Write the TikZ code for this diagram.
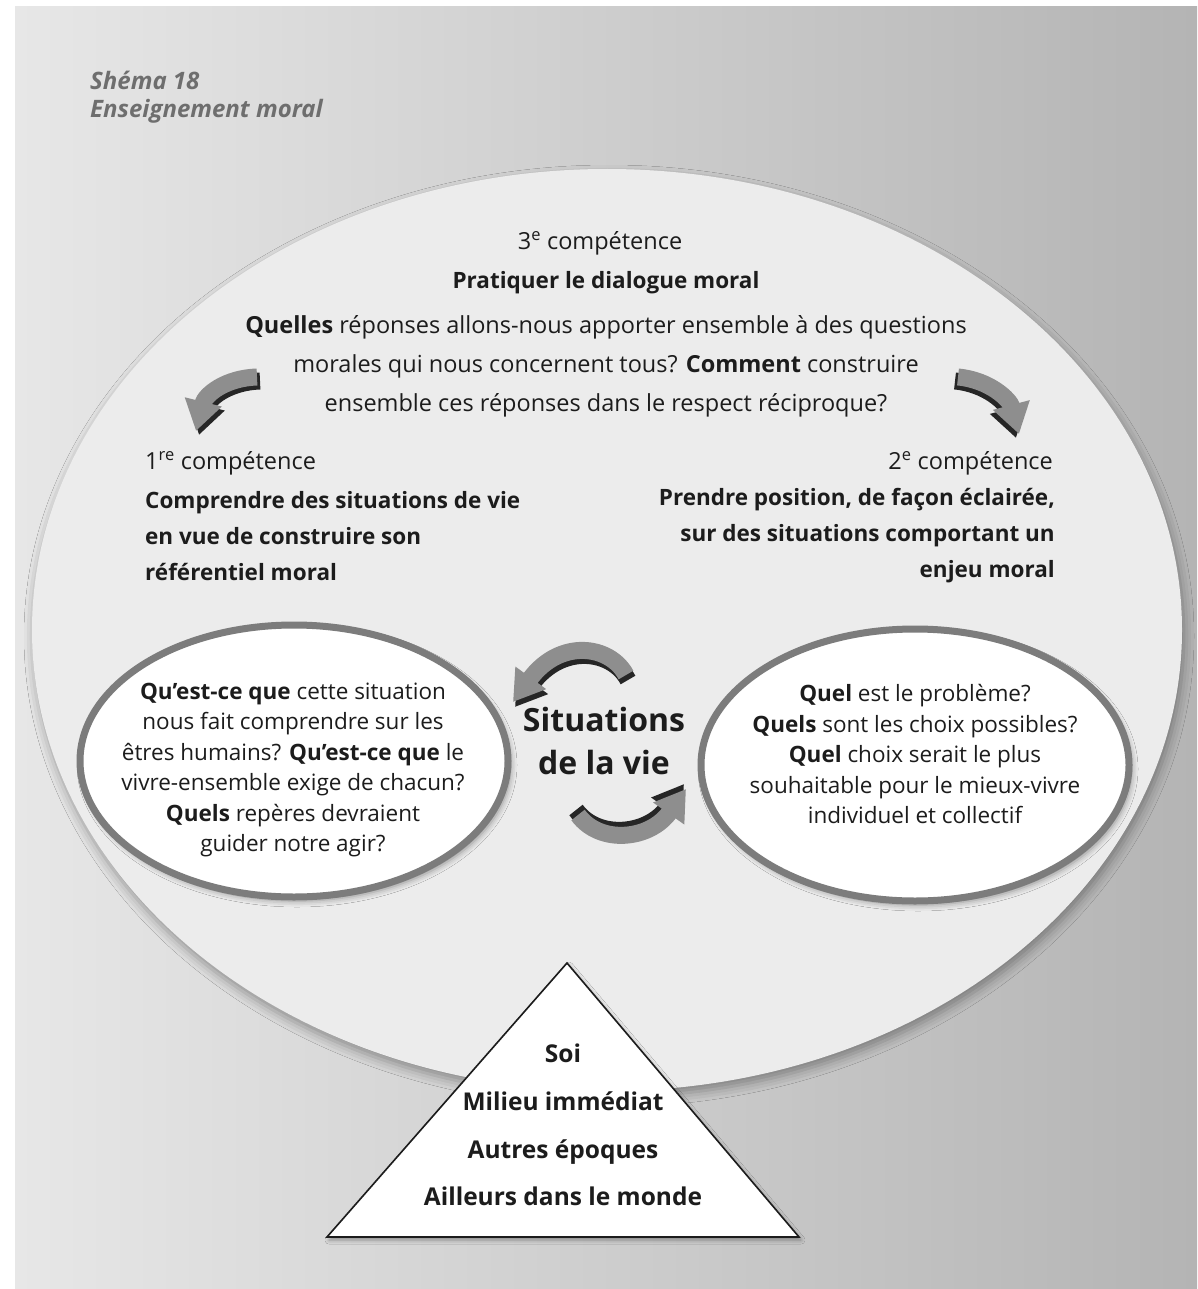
\documentclass[tikz,border=0pt]{standalone}
\usepackage{fontspec}
\setmainfont{Open Sans}
\usetikzlibrary{arrows.meta,positioning,shapes.geometric,shadows.blur,calc}
\definecolor{SMPaleL}{HTML}{E7E7E7}
\definecolor{SMPaleR}{HTML}{B4B4B4}
\definecolor{SMDisc}{HTML}{ECECEC}
\definecolor{SMRing}{HTML}{7C7C7C}
\definecolor{SMInk}{HTML}{1C1C1C}
\definecolor{SMTitle}{HTML}{6E6E6E}
\definecolor{SMArrow}{HTML}{8E8E8E}
\definecolor{SMShade}{HTML}{262626}
\tikzset{txt/.style={text=SMInk,inner sep=0pt,font=\fontsize{23.5}{36}\selectfont}, head/.style={txt,font=\fontsize{22.5}{36}\selectfont\bfseries}, bubble/.style={ellipse,draw=SMRing,line width=7pt,fill=white,minimum width=428pt,minimum height=272pt,inner sep=0pt,blur shadow={shadow xshift=3pt,shadow yshift=-4pt,shadow blur radius=6pt,shadow opacity=40}}, bubbletxt/.style={txt,align=center,font=\fontsize{22.5}{30.5}\selectfont}, swirl/.style={line width=17pt,draw=SMArrow,-{Triangle[length=30pt,width=36pt]},preaction={draw=SMShade,line width=17pt,-{Triangle[length=30pt,width=36pt]},transform canvas={shift={#1}}}}}
\begin{document}
\begin{tikzpicture}[x=1pt,y=-1pt]
\useasboundingbox (0,0) rectangle (1197,1289);
\shade[left color=SMPaleL,right color=SMPaleR] (15,7) rectangle (1197,1289);
\fill[SMDisc,blur shadow={shadow xshift=2pt,shadow yshift=-6pt,shadow blur radius=10pt,shadow opacity=35}] (607,630) ellipse [x radius=575,y radius=461];
\node[anchor=base west,inner sep=0pt,text=SMTitle,font=\fontsize{24}{28}\selectfont\bfseries\itshape] (title1) at (90,90) {Shéma 18};
\node[anchor=base west,inner sep=0pt,text=SMTitle,font=\fontsize{24}{28}\selectfont\bfseries\itshape] (title2) at (90,118) {Enseignement moral};
\node[txt] (c3) at (600,243) {3\textsuperscript{e} compétence};
\node[head] (c3h) at (606,283) {Pratiquer le dialogue moral};
\node[txt,align=center,font=\fontsize{23.5}{39}\selectfont] (c3q) at (606,366) {\textbf{Quelles} réponses allons-nous apporter ensemble à des questions\\morales qui nous concernent tous? \textbf{Comment} construire\\ensemble ces réponses dans le respect réciproque?};
\node[txt,anchor=west] (c1) at (145,463) {1\textsuperscript{re} compétence};
\node[head,align=left,anchor=west] (c1h) at (145,536) {Comprendre des situations de vie\\en vue de construire son\\référentiel moral};
\node[txt,anchor=east] (c2) at (1053,463) {2\textsuperscript{e} compétence};
\node[head,align=right,anchor=east] (c2h) at (1055,536) {Prendre position, de façon éclairée,\\sur des situations comportant un\\enjeu moral};
\node[bubble] (qleft) at (294,761) {};
\node[bubbletxt] (qlefttxt) at (293,770) {\textbf{Qu’est-ce que} cette situation\\nous fait comprendre sur les\\êtres humains? \textbf{Qu’est-ce que} le\\vivre-ensemble exige de chacun?\\\textbf{Quels} repères devraient\\guider notre agir?};
\node[bubble] (qright) at (915,765) {};
\node[bubbletxt] (qrighttxt) at (915,754) {\textbf{Quel} est le problème?\\\textbf{Quels} sont les choix possibles?\\\textbf{Quel} choix serait le plus\\souhaitable pour le mieux-vivre\\individuel et collectif};
\node[txt,align=center,font=\fontsize{32}{43}\selectfont\bfseries] (life) at (604,741) {Situations\\de la vie};
\coordinate (apex) at (567,963);
\coordinate (baseL) at (327,1237);
\coordinate (baseR) at (799,1237);
\filldraw[fill=white,draw=SMInk,line width=1.6pt,blur shadow={shadow xshift=2pt,shadow yshift=-3pt,shadow blur radius=4pt,shadow opacity=35}] (apex) -- (baseR) -- (baseL) -- cycle;
\node[head,align=center,font=\fontsize{24.5}{47.7}\selectfont\bfseries] (levels) at (563,1125) {Soi\\Milieu immédiat\\Autres époques\\Ailleurs dans le monde};
\coordinate (a1s) at (257,377);
\coordinate (a1t) at (196,431);
\coordinate (a2s) at (958,377);
\coordinate (a2t) at (1019,434);
\coordinate (a3s) at (626,675);
\coordinate (a3t) at (513,702);
\coordinate (a4s) at (578,815);
\coordinate (a4t) at (686,789);
\draw[swirl={(3,4)}] (a1s) .. controls (225,378) and (205,395) .. (a1t);
\draw[swirl={(-3,4)}] (a2s) .. controls (990,380) and (1010,400) .. (a2t);
\draw[swirl={(2,5)}] (a3s) .. controls (610,645) and (560,638) .. (a3t);
\draw[swirl={(-2,-5)}] (a4s) .. controls (600,845) and (650,840) .. (a4t);
\end{tikzpicture}
\end{document}
